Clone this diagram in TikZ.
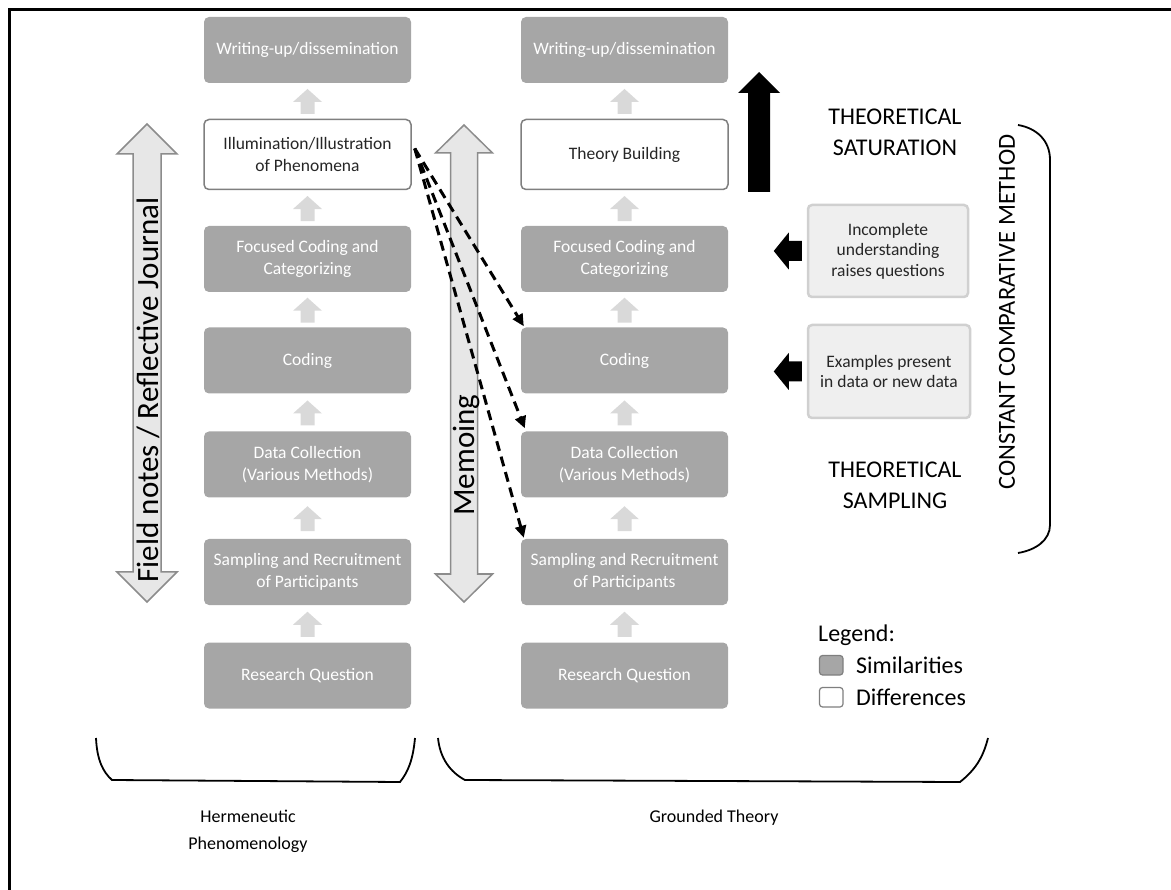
\documentclass[tikz,border=0pt]{standalone}
\usepackage{fontspec}
\setmainfont{Carlito}
\usetikzlibrary{arrows.meta,calc}
\definecolor{simgray}{HTML}{A6A6A6}
\definecolor{diffborder}{HTML}{7F7F7F}
\definecolor{textdark}{HTML}{262626}
\definecolor{upgray}{HTML}{D9D9D9}
\definecolor{dblfill}{HTML}{E7E7E7}
\definecolor{dblborder}{HTML}{8C8C8C}
\definecolor{sidefill}{HTML}{EFEFEF}
\definecolor{sideborder}{HTML}{D0D0D0}
\newcommand\upblock[2]{%
  \coordinate (m) at ($(#1.north)!0.5!(#2.south)$);
  \fill[upgray] ([shift={(-7,13)}]m) -- ([shift={(-7,1)}]m) -- ([shift={(-14.5,1)}]m) -- ([shift={(0,-12)}]m) -- ([shift={(14.5,1)}]m) -- ([shift={(7,1)}]m) -- ([shift={(7,13)}]m) -- cycle;}
\newcommand\leftblock[1]{%
  \fill[black] ([shift={(-5,-10)}]#1.west) -- ([shift={(-18,-10)}]#1.west) -- ([shift={(-18,-18.5)}]#1.west) -- ([shift={(-33,0)}]#1.west) -- ([shift={(-18,18.5)}]#1.west) -- ([shift={(-18,10)}]#1.west) -- ([shift={(-5,10)}]#1.west) -- cycle;}
\begin{document}
\begin{tikzpicture}[x=1pt,y=-1pt,
  boxfont/.style={font=\fontsize{17.5}{21.5}\selectfont},
  simbox/.style={rectangle, rounded corners=5pt, fill=simgray, draw=none, text=white,
    minimum width=207pt, minimum height=66pt, inner sep=0pt, align=center, boxfont},
  diffbox/.style={simbox, fill=white, draw=diffborder, line width=1.5pt, text=textdark, minimum height=70pt},
  sidebox/.style={rectangle, rounded corners=4pt, fill=sidefill, draw=sideborder, line width=2.5pt,
    minimum width=160pt, minimum height=92pt, inner sep=0pt, align=center, text=textdark,
    font=\fontsize{17.5}{20.5}\selectfont},
  bigtext/.style={text=black, align=center, font=\fontsize{24}{31}\selectfont},
  dasharrow/.style={line width=3pt, dash pattern=on 10pt off 6pt, -{Triangle[length=12pt,width=11pt]}},
  dblarrow/.style={fill=dblfill, draw=dblborder, line width=1.5pt},
  bracket/.style={line width=1.8pt, black},
  labfont/.style={font=\fontsize{18}{27}\selectfont}
]
\useasboundingbox (0,0) rectangle (1171,890);
\draw[line width=3pt] (1171,10) -- (9.5,10) -- (9.5,890);

% left column
\node[simbox] (wu1) at (307.5,50) {Writing-up/dissemination};
\node[diffbox] (il1) at (307.5,154.5) {Illumination/Illustration\\of Phenomena};
\node[simbox] (fc1) at (307.5,259) {Focused Coding and\\Categorizing};
\node[simbox] (co1) at (307.5,360.5) {Coding};
\node[simbox] (dc1) at (307.5,464.5) {Data Collection\\(Various Methods)};
\node[simbox] (sr1) at (307.5,572) {Sampling and Recruitment\\of Participants};
\node[simbox] (rq1) at (307.5,675.5) {Research Question};

% right column
\node[simbox] (wu2) at (624.5,50) {Writing-up/dissemination};
\node[diffbox] (tb2) at (624.5,154.5) {Theory Building};
\node[simbox] (fc2) at (624.5,259) {Focused Coding and\\Categorizing};
\node[simbox] (co2) at (624.5,360.5) {Coding};
\node[simbox] (dc2) at (624.5,464.5) {Data Collection\\(Various Methods)};
\node[simbox] (sr2) at (624.5,572) {Sampling and Recruitment\\of Participants};
\node[simbox] (rq2) at (624.5,675.5) {Research Question};

% small up arrows
\upblock{il1}{wu1}\upblock{fc1}{il1}\upblock{co1}{fc1}\upblock{dc1}{co1}\upblock{sr1}{dc1}\upblock{rq1}{sr1}
\upblock{tb2}{wu2}\upblock{fc2}{tb2}\upblock{co2}{fc2}\upblock{dc2}{co2}\upblock{sr2}{dc2}\upblock{rq2}{sr2}

% big double arrows
\draw[dblarrow] (147,124) -- (177,154) -- (161,154) -- (161,572) -- (177,572) -- (147,602) -- (117,572) -- (133,572) -- (133,154) -- (117,154) -- cycle;
\node[rotate=90, font=\fontsize{31}{33}\selectfont] (fn) at (148,390) {Field notes / Reflective Journal};
\draw[dblarrow] (464,125) -- (492.5,153) -- (477.5,153) -- (477.5,574) -- (492.5,574) -- (464,602) -- (435.5,574) -- (450.5,574) -- (450.5,153) -- (435.5,153) -- cycle;
\node[rotate=90, font=\fontsize{31}{33}\selectfont] (memo) at (466,455) {Memoing};

% dashed arrows
\coordinate (dstart) at ([shift={(3,-6)}]il1.east);
\draw[dasharrow] (dstart) -- ([shift={(3,-1)}]co2.north west);
\draw[dasharrow] (dstart) -- ([shift={(4,-3)}]dc2.north west);
\draw[dasharrow] (dstart) -- ([shift={(3,-1)}]sr2.north west);

% black up arrow
\fill[black] (748,192) -- (748,93) -- (738,93) -- (759,72) -- (780,93) -- (770,93) -- (770,192) -- cycle;

\node[bigtext] (sat) at (895,132) {THEORETICAL\\SATURATION};
\node[bigtext] (samp) at (895,485) {THEORETICAL\\SAMPLING};

% side boxes
\node[sidebox] (sb1) at (888,251) {Incomplete\\understanding\\raises questions};
\node[sidebox, minimum width=162pt, minimum height=93pt] (sb2) at (889,371.5) {Examples present\\in data or new data};
\leftblock{sb1}
\leftblock{sb2}

% right bracket
\draw[bracket] (1018,125) .. controls (1036,128) and (1050,140) .. (1050,160) -- (1050,525) .. controls (1050,540) and (1036,550) .. (1018,553);
\node[rotate=90, font=\fontsize{24.5}{26}\selectfont] (ccm) at (1007,312) {CONSTANT COMPARATIVE METHOD};

% legend
\node[anchor=west, font=\fontsize{24}{26}\selectfont, inner sep=0pt] (leg) at (818,635) {Legend:};
\draw[fill=simgray, draw=diffborder, line width=1.2pt, rounded corners=3pt] (819.5,655.5) rectangle (843,675) node[midway] (lsq1) {};
\draw[fill=white, draw=diffborder, line width=1.2pt, rounded corners=3pt] (819.5,687.5) rectangle (843,707) node[midway] (lsq2) {};
\node[anchor=west, font=\fontsize{24}{26}\selectfont, inner sep=0pt] (lsim) at (856,665) {Similarities};
\node[anchor=west, font=\fontsize{24}{26}\selectfont, inner sep=0pt] (ldif) at (856,697) {Differences};

% bottom brackets
\draw[bracket] (96,738) .. controls (97,760) and (103,772) .. (112,780) -- (400,782) .. controls (408,772) and (413,760) .. (415,738);
\draw[bracket] (438,738) .. controls (440,758) and (450,772) .. (465,780) -- (960,782) .. controls (975,770) and (983,758) .. (988,738);
\node[align=center, labfont] (hp) at (248,831) {Hermeneutic\\Phenomenology};
\node[labfont] (gt) at (714,818) {Grounded Theory};
\end{tikzpicture}
\end{document}
